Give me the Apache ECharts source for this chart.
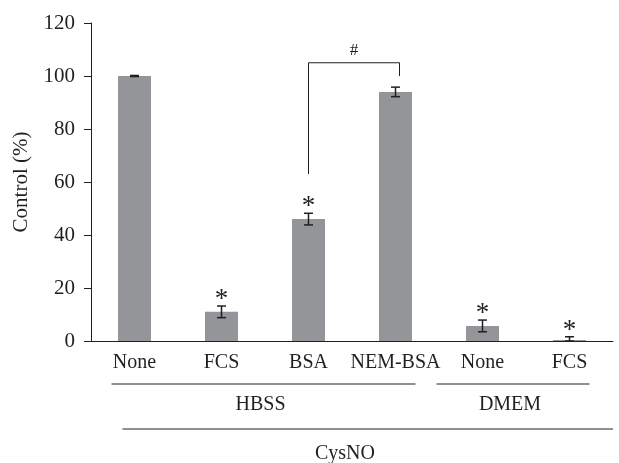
<!DOCTYPE html>
<html><head><meta charset="utf-8">
<script src="https://cdn.jsdelivr.net/npm/echarts@6/dist/echarts.min.js"></script>
<style>html,body{margin:0;padding:0;background:#fff}#c{width:619px;height:463px}</style>
</head><body><div id="c"></div>
<script>
// ---- data ----
const categories = ['None', 'FCS', 'BSA', 'NEM-BSA', 'None', 'FCS'];
const values = [100, 11, 46, 94, 5.7, 0.4];
const errors = [0.2, 2.2, 2.2, 1.8, 2.2, 1.2];
const starred = [1, 2, 4, 5];
const yTicks = [0, 20, 40, 60, 80, 100, 120];
const bracketFrom = 2, bracketTo = 3;
const bracketTop = 105, bracketLeftEnd = 63, bracketRightEnd = 100;
const bracketLabel = '#';
const groupLabels = ['HBSS', 'DMEM'];
const groupFrom = [0, 4];
const groupTo = [3, 5];
const outerLabel = 'CysNO';
const yAxisName = 'Control (%)';

// ---- style ----
const FONT = 'Liberation Serif';
const INK = '#231f20';
const BAR = '#939598';

const errData = values.map((v, i) => [i, Math.max(0, v - errors[i]), v + errors[i]]);
const starData = starred.map(i => [i, values[i] + errors[i]]);

const chart = echarts.init(document.getElementById('c'), null, {renderer: 'canvas'});
const option = {
  animation: false,
  backgroundColor: '#fff',
  grid: {left: 91, right: 6, top: 23, bottom: 122},
  xAxis: {
    type: 'category',
    data: categories,
    axisLine: {lineStyle: {color: INK, width: 1}},
    axisTick: {show: false},
    axisLabel: {color: INK, fontFamily: FONT, fontSize: 20, margin: 12, interval: 0}
  },
  yAxis: {
    type: 'value',
    min: yTicks[0], max: yTicks[yTicks.length - 1], interval: yTicks[1] - yTicks[0],
    name: yAxisName, nameLocation: 'middle', nameRotate: 90, nameGap: 59,
    nameTextStyle: {color: INK, fontFamily: FONT, fontSize: 21},
    axisLine: {show: true, lineStyle: {color: INK, width: 1}},
    axisTick: {show: true, length: 7, lineStyle: {color: INK}},
    axisLabel: {color: INK, fontFamily: FONT, fontSize: 21, margin: 16},
    splitLine: {show: false}
  },
  series: [
    {type: 'bar', data: values, barWidth: 33, itemStyle: {color: BAR}, z: 2},
    {
      type: 'custom', data: errData, z: 5,
      encode: {x: 0, y: [1, 2]},
      renderItem(params, api) {
        const x = api.value(0);
        const pHi = api.coord([x, api.value(2)]);
        const pLo = api.coord([x, api.value(1)]);
        const w = 4.5, st = {stroke: INK, lineWidth: 1.5};
        return {type: 'group', children: [
          {type: 'line', shape: {x1: pHi[0], y1: pHi[1], x2: pLo[0], y2: pLo[1]}, style: st},
          {type: 'line', shape: {x1: pHi[0] - w, y1: pHi[1], x2: pHi[0] + w, y2: pHi[1]}, style: st},
          {type: 'line', shape: {x1: pLo[0] - w, y1: pLo[1], x2: pLo[0] + w, y2: pLo[1]}, style: st}
        ]};
      }
    },
    {
      type: 'custom', data: starData, z: 5,
      encode: {x: 0, y: 1},
      renderItem(params, api) {
        const p = api.coord([api.value(0), api.value(1)]);
        return {type: 'text', style: {text: '*', x: p[0], y: p[1] - 6, align: 'center', verticalAlign: 'middle',
          fontFamily: FONT, fontSize: 27, fill: INK}};
      }
    },
    {
      type: 'custom', data: [[bracketFrom, bracketTo, bracketTop, bracketLeftEnd, bracketRightEnd]], z: 5,
      encode: {x: [0, 1], y: [2, 3, 4]},
      renderItem(params, api) {
        const a = api.coord([api.value(0), api.value(3)]);
        const b = api.coord([api.value(0), api.value(2)]);
        const c = api.coord([api.value(1), api.value(2)]);
        const d = api.coord([api.value(1), api.value(4)]);
        const rx = c[0] + 4;
        return {type: 'group', children: [
          {type: 'polyline', shape: {points: [[a[0], a[1]], [b[0], b[1]], [rx, c[1]], [rx, d[1]]]},
            style: {stroke: INK, lineWidth: 1, fill: null}},
          {type: 'text', style: {text: bracketLabel, x: (b[0] + rx) / 2, y: b[1] - 12, align: 'center', verticalAlign: 'middle',
            fontFamily: FONT, fontSize: 17, fill: INK}}
        ]};
      }
    }
  ]
};
chart.setOption(option);

// group annotations below the axis
const px = i => chart.convertToPixel({xAxisIndex: 0}, i);
const y0 = chart.convertToPixel({yAxisIndex: 0}, 0);
const gridRight = 619 - 6;
const leftPad = [23, 46];
const gfx = [];
groupLabels.forEach((lab, k) => {
  const x1 = px(groupFrom[k]) - leftPad[k];
  const x2 = px(groupTo[k]) + 20;
  gfx.push({type: 'line', shape: {x1: x1, y1: y0 + 43, x2: x2, y2: y0 + 43}, style: {stroke: INK, lineWidth: 1}});
  gfx.push({type: 'text', style: {text: lab, x: (x1 + x2) / 2 - 3, y: y0 + 64, align: 'center', verticalAlign: 'middle',
    fontFamily: FONT, fontSize: 20, fill: INK}});
});
const ox1 = px(0) - 12;
gfx.push({type: 'line', shape: {x1: ox1, y1: y0 + 88, x2: gridRight, y2: y0 + 88}, style: {stroke: INK, lineWidth: 1}});
gfx.push({type: 'text', style: {text: outerLabel, x: 345, y: y0 + 113, align: 'center', verticalAlign: 'middle',
  fontFamily: FONT, fontSize: 20, fill: INK}});
chart.setOption({graphic: gfx});
</script>
</body></html>
